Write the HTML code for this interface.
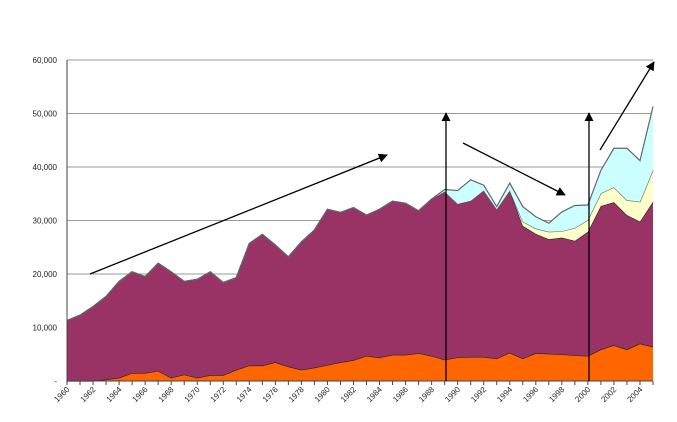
<!DOCTYPE html>
<html><head><meta charset="utf-8"><style>
html,body{margin:0;padding:0;background:#fff;width:677px;height:422px;overflow:hidden}
svg text{font-family:"Liberation Sans",sans-serif;font-size:8px;fill:#222}
</style></head><body>
<svg id="chart" width="677" height="422" viewBox="0 0 677 422" xmlns="http://www.w3.org/2000/svg">
<defs><marker id="ah" viewBox="0 0 10 10" refX="9" refY="5" markerWidth="7" markerHeight="7" orient="auto-start-reverse"><path d="M0,0 L10,5 L0,10 z" fill="#000"/></marker></defs>
<g id="grid"></g><g id="areas"></g><g id="axes"></g><g id="annot"></g>
</svg>
<script>
const years=[];for(let y=1960;y<=2005;y++)years.push(y);
const orange=[0,0,0,0.3,0.6,1.5,1.5,1.9,0.6,1.2,0.6,1.1,1.1,2.1,2.9,2.9,3.5,2.7,2.1,2.5,3.0,3.5,3.9,4.7,4.4,4.9,4.9,5.2,4.7,4.0,4.4,4.5,4.5,4.2,5.3,4.2,5.2,5.1,5.0,4.8,4.7,5.9,6.7,5.9,7.0,6.4];
const purple=[11.3,12.3,13.9,15.5,18.0,18.9,18.0,20.1,19.8,17.4,18.4,19.3,17.3,17.2,22.8,24.5,21.9,20.5,23.9,25.7,29.1,28.0,28.5,26.3,27.7,28.7,28.3,26.6,29.3,31.4,28.7,29.2,31.1,27.9,30.3,24.8,22.3,21.4,21.8,21.4,23.2,26.8,26.7,25.1,22.8,27.1];
const yellow=[0,0,0,0,0,0,0,0,0,0,0,0,0,0,0,0,0,0,0,0,0,0,0,0,0,0,0,0,0,0,0,0,0,0,0,0.8,1.0,1.4,1.2,2.4,2.2,2.4,2.8,2.8,3.7,5.9];
const cyan=[0,0,0,0,0,0,0,0,0,0,0,0,0,0,0,0,0,0,0,0,0,0,0,0,0,0,0,0,0,0.4,2.5,3.9,1.0,0.5,1.4,2.8,2.2,1.6,3.6,4.2,2.8,4.3,7.3,9.7,7.7,11.9];
const yTicks=[0,10,20,30,40,50,60];
const yTickLabels=["-","10,000","20,000","30,000","40,000","50,000","60,000"];
const NS="http://www.w3.org/2000/svg";
const X0=67,X1=653,Y0=381,Y1=60;
const xs=i=>X0+i*(X1-X0)/(years.length-1);
const ys=v=>Y0-(v/60)*(Y0-Y1);
function mk(tag,attrs,parent){const e=document.createElementNS(NS,tag);for(const k in attrs)e.setAttribute(k,attrs[k]);parent.appendChild(e);return e;}
const grid=document.getElementById('grid'),areas=document.getElementById('areas'),axes=document.getElementById('axes'),annot=document.getElementById('annot');
yTicks.forEach((t,i)=>{
  if(t>0){const l=mk('line',{x1:X0,x2:X1,y1:ys(t),y2:ys(t),stroke:'#999','stroke-width':1},grid);
  
  }
  const tx=mk('text',{x:57,y:ys(t)+3,'text-anchor':'end'},axes);tx.textContent=yTickLabels[i];
  
  
});
const series=[orange,purple,yellow,cyan],colors=['#FF6600','#993366','#FFFFCC','#CCFFFF'],names=['area-orange','area-purple','area-yellow','area-cyan'];
let base=years.map(()=>0);
series.forEach((s,si)=>{
  const top=base.map((b,i)=>b+s[i]);
  let d='M'+years.map((_,i)=>xs(i)+','+ys(top[i])).join(' L');
  for(let i=years.length-1;i>=0;i--)d+=' L'+xs(i)+','+ys(base[i]);
  d+='Z';
  const p=mk('path',{d:d,fill:colors[si],stroke:'none'},areas);
  
  
  const ln=mk('path',{d:'M'+years.map((_,i)=>xs(i)+','+ys(top[i])).join(' L'),fill:'none',stroke:si>=2?'#666':'#222','stroke-width':1.2},areas);
  
  
  base=top;
});
const ax=mk('line',{x1:X0,x2:X0,y1:Y1,y2:Y0,stroke:'#444'},axes);


const bx=mk('line',{x1:X0,x2:X1,y1:Y0,y2:Y0,stroke:'#444'},axes);


years.forEach((y,i)=>{
  mk('line',{x1:xs(i),x2:xs(i),y1:Y0,y2:Y0+4,stroke:'#444'},axes);
  if(i%2===0){const t=mk('text',{x:0,y:0,'text-anchor':'end',transform:`translate(${xs(i)+3},${Y0+9}) rotate(-45)`},axes);t.textContent=y;
  
  }
});
[[90,274,387,155],[463,143,565,195],[446,381,446,113],[589,381,589,113],[600,150,654,62]].forEach(a=>{
  const l=mk('line',{x1:a[0],y1:a[1],x2:a[2],y2:a[3],stroke:'#000','stroke-width':1.3,'marker-end':'url(#ah)'},annot);
  
  
});
</script>
</body></html>
